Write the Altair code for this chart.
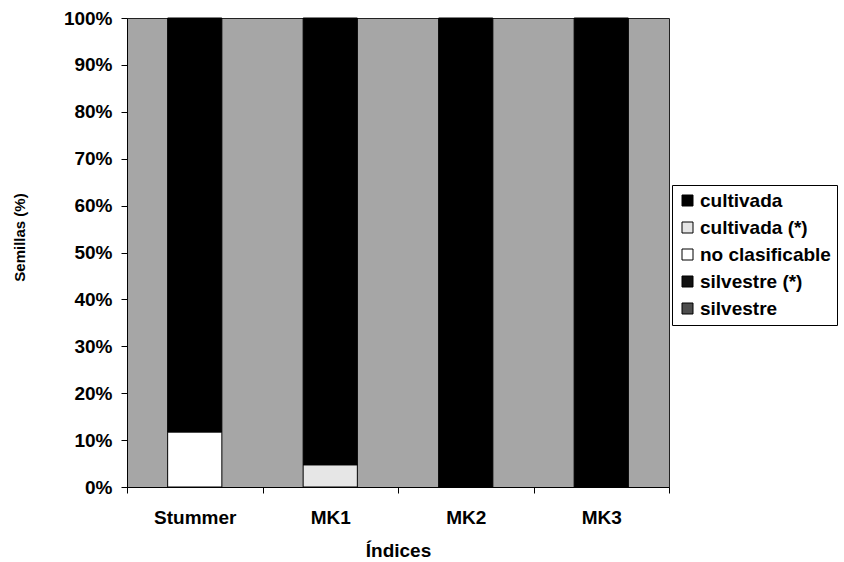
import altair as alt
import pandas as pd

# Seed classification per index, in percent of seeds
categories = ["Stummer", "MK1", "MK2", "MK3"]
series_names = ["cultivada", "cultivada (*)", "no clasificable", "silvestre (*)", "silvestre"]
cultivada = [88.3, 95.3, 100.0, 100.0]
cultivada_ast = [0.0, 4.7, 0.0, 0.0]
no_clasificable = [11.7, 0.0, 0.0, 0.0]
silvestre_ast = [0.0, 0.0, 0.0, 0.0]
silvestre = [0.0, 0.0, 0.0, 0.0]

series_values = [cultivada, cultivada_ast, no_clasificable, silvestre_ast, silvestre]
series_colors = ["#000000", "#e6e6e6", "#ffffff", "#111111", "#4d4d4d"]
# stacking order, bottom to top
stack_rank = {"silvestre": 0, "silvestre (*)": 1, "no clasificable": 2,
              "cultivada (*)": 3, "cultivada": 4}

rows = []
for name, values in zip(series_names, series_values):
    for cat, v in zip(categories, values):
        rows.append({"indice": cat, "serie": name, "pct": v, "rank": stack_rank[name]})
df = pd.DataFrame(rows)

FONT = "Liberation Sans"

chart = (
    alt.Chart(df)
    .transform_filter("datum.pct > 0")
    .mark_bar(stroke="black", strokeWidth=1, width={"band": 0.4})
    .encode(
        x=alt.X(
            "indice:N",
            sort=categories,
            scale=alt.Scale(paddingInner=0, paddingOuter=0),
            axis=alt.Axis(
                title="Índices",
                labelAngle=0,
                tickBand="extent",
                tickSize=6,
                labelPadding=30,
                labelBaseline="alphabetic",
                labelFont=FONT,
                labelFontSize=19,
                labelFontWeight="bold",
                labelColor="black",
                titleFont=FONT,
                titleFontSize=19,
                titleFontWeight="bold",
                titleColor="black",
                titleX=271,
                titleY=69,
                titleBaseline="alphabetic",
                domainColor="black",
                tickColor="black",
            ),
        ),
        y=alt.Y(
            "pct:Q",
            stack="normalize",
            scale=alt.Scale(domain=[0, 1]),
            axis=alt.Axis(
                title="Semillas (%)",
                values=[0, 0.1, 0.2, 0.3, 0.4, 0.5, 0.6, 0.7, 0.8, 0.9, 1.0],
                format=".0%",
                grid=False,
                tickSize=6,
                labelPadding=9,
                labelFont=FONT,
                labelFontSize=19,
                labelFontWeight="bold",
                labelColor="black",
                titleFont=FONT,
                titleFontSize=15,
                titleFontWeight="bold",
                titleColor="black",
                titleAngle=270,
                titleX=-108,
                titleY=219,
                titleAlign="center",
                titleBaseline="middle",
                domainColor="black",
                tickColor="black",
            ),
        ),
        color=alt.Color(
            "serie:N",
            scale=alt.Scale(domain=series_names, range=series_colors),
            legend=alt.Legend(
                title=None,
                orient="none",
                legendX=545,
                legendY=167,
                symbolType="square",
                symbolSize=121,
                symbolStrokeColor="black",
                symbolStrokeWidth=1,
                labelFont=FONT,
                labelFontSize=19,
                labelFontWeight="bold",
                labelColor="black",
                labelLimit=300,
                labelOffset=3,
                rowPadding=7,
                padding=6,
                strokeColor="black",
                fillColor="white",
            ),
        ),
        order=alt.Order("rank:Q", sort="ascending"),
    )
    .properties(
        width=542,
        height=469,
        autosize=alt.AutoSizeParams(type="none"),
        padding={"left": 127, "top": 18, "right": 175, "bottom": 75},
        background="white",
    )
    .configure_view(fill="#a6a6a6", stroke="#222222", strokeWidth=1)
)

chart.save("out.html", embed_options={"renderer": "svg", "actions": False})
